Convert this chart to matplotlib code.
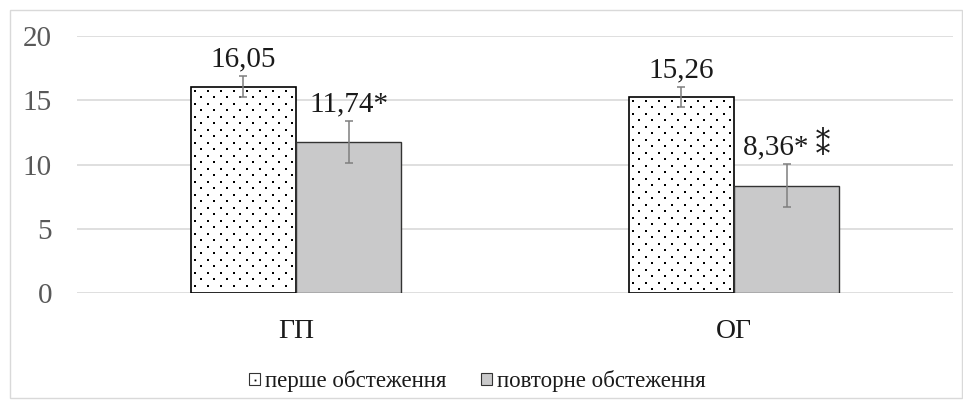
import numpy as np
import matplotlib.pyplot as plt
from matplotlib.patches import Rectangle, Patch
from matplotlib.lines import Line2D
from matplotlib.legend_handler import HandlerTuple

# data
groups = ["ГП", "ОГ"]
first_exam = [16.05, 15.26]
second_exam = [11.74, 8.36]
first_err = [0.8, 0.75]
second_err = [1.65, 1.7]
first_labels = ["16,05", "15,26"]
second_labels = ["11,74*", "8,36* \u2051"]
series_names = ["перше обстеження", "повторне обстеження"]

plt.rcParams['font.family'] = ['Liberation Serif', 'DejaVu Serif', 'DejaVu Sans']

fig = plt.figure(figsize=(9.63, 4.0), dpi=100)
ax = fig.add_axes([0.08, 0.2675, 0.9096, 0.6425])

x = np.arange(len(groups))
w = 0.24

b1 = ax.bar(x - w / 2, first_exam, w, color="white", edgecolor="black",
            linewidth=1.2, zorder=3)
b2 = ax.bar(x + w / 2, second_exam, w, color="#c9c9ca", edgecolor="#333333",
            linewidth=1.0, zorder=3)

ax.errorbar(x - w / 2, first_exam, yerr=first_err, fmt="none", ecolor="#7f7f7f",
            elinewidth=1.1, capsize=3, capthick=1.1, zorder=5)
ax.errorbar(x + w / 2, second_exam, yerr=second_err, fmt="none", ecolor="#7f7f7f",
            elinewidth=1.1, capsize=3, capthick=1.1, zorder=5)

for i in range(len(groups)):
    ax.annotate(first_labels[i], (x[i] - w / 2, first_exam[i] + first_err[i]),
                xytext=(0, 7), textcoords="offset points", ha="center", va="baseline",
                fontsize=21, color="#1a1a1a")
    ax.annotate(second_labels[i], (x[i] + w / 2, second_exam[i] + second_err[i]),
                xytext=(0, 7), textcoords="offset points", ha="center", va="baseline",
                fontsize=21, color="#1a1a1a")

ax.set_xlim(-0.5, 1.5)
ax.set_ylim(0, 20)
ax.set_yticks([0, 5, 10, 15, 20])
ax.set_xticks(x)
ax.set_xticklabels(groups, fontsize=20, color="#1a1a1a")
ax.tick_params(axis="y", labelsize=21, labelcolor="#595959", length=0, pad=18)
ax.tick_params(axis="x", length=0, pad=19)
ax.grid(axis="y", color="#d9d9d9", linewidth=1.2, zorder=0)
for s in ax.spines.values():
    s.set_visible(False)

# dotted fill of the first series, spread over each bar's own extent
for bar in b1:
    (px0, py0), (px1, py1) = ax.transData.transform(
        [(bar.get_x(), 0), (bar.get_x() + bar.get_width(), bar.get_height())])
    pts = []
    row = 0
    yy = py1 - 4
    while yy > py0 + 1:
        xx = px0 + 4 + (6.5 if row % 2 else 0)
        while xx < px1 - 1.5:
            pts.append((xx, yy))
            xx += 13
        yy -= 6.5
        row += 1
    pts = ax.transData.inverted().transform(np.array(pts))
    ax.scatter(pts[:, 0], pts[:, 1], s=0.9, marker="s", color="black",
               linewidths=0, zorder=4)

# legend handles: white square with one dot, grey square
h1 = (Patch(facecolor="white", edgecolor="#333333", linewidth=0.8),
      Line2D([], [], linestyle="none", marker="s", markersize=1.3,
             markerfacecolor="black", markeredgewidth=0))
h2 = Patch(facecolor="#c9c9ca", edgecolor="#333333", linewidth=0.8)
fig.legend(handles=[h1, h2], labels=series_names, loc="center",
           bbox_to_anchor=(0.496, 0.0475), ncol=2, frameon=False, fontsize=16.5,
           handlelength=0.45, handleheight=0.45, handletextpad=0.25,
           columnspacing=1.5, labelcolor="#1a1a1a",
           handler_map={tuple: HandlerTuple(ndivide=1, pad=0)})

fig.patches.append(Rectangle((10 / 963, 2 / 400), 952 / 963, 388 / 400,
                             transform=fig.transFigure, fill=False,
                             edgecolor="#d9d9d9", linewidth=1.0))

fig.savefig("out.png", dpi=100)
